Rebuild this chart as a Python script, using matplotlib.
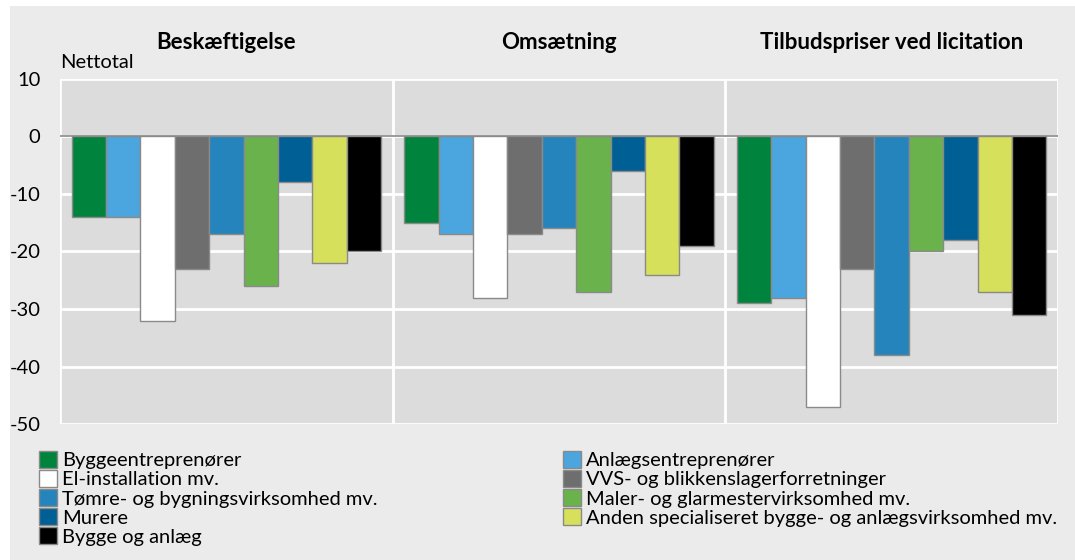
import numpy as np
import matplotlib
matplotlib.use("Agg")
import matplotlib.pyplot as plt
from matplotlib.patches import Patch, Rectangle

plt.rcParams['font.family'] = ['Lato', 'DejaVu Sans']

# data
groups = ['Beskæftigelse', 'Omsætning', 'Tilbudspriser ved licitation']
series = ['Byggeentreprenører', 'Anlægsentreprenører', 'El-installation mv.',
          'VVS- og blikkenslagerforretninger', 'Tømre- og bygningsvirksomhed mv.',
          'Maler- og glarmestervirksomhed mv.', 'Murere',
          'Anden specialiseret bygge- og anlægsvirksomhed mv.', 'Bygge og anlæg']
values = {
    'Beskæftigelse': [-14, -14, -32, -23, -17, -26, -8, -22, -20],
    'Omsætning': [-15, -17, -28, -17, -16, -27, -6, -24, -19],
    'Tilbudspriser ved licitation': [-29, -28, -47, -23, -38, -20, -18, -27, -31],
}
colors = ['#00843d', '#4ba5de', '#ffffff', '#6e6e6e', '#2584bb',
          '#6ab24c', '#005f94', '#d7e05a', '#000000']
yticks = [10, 0, -10, -20, -30, -40, -50]

fig = plt.figure(figsize=(10.75, 5.6), dpi=100)
fig.patch.set_facecolor('white')
fig.patches.append(Rectangle((10 / 1075, 0), 1, 1 - 6 / 560, transform=fig.transFigure,
                             facecolor='#ebebeb', edgecolor='none', zorder=-10))

ax = fig.add_axes([60 / 1075, 1 - 424 / 560, 998 / 1075, 345 / 560])
ax.set_facecolor('#dcdcdc')

margin = 0.035
w = (1 - 2 * margin) / len(series)
for g, grp in enumerate(groups):
    xs = g + margin + w * (np.arange(len(series)) + 0.5)
    ax.bar(xs, values[grp], width=w, color=colors, edgecolor='#8a8a8a',
           linewidth=1, zorder=3)
    ax.text(g + 0.5, 1.107, grp, transform=ax.get_xaxis_transform(),
            ha='center', va='center', fontsize=16, fontweight='bold')

ax.set_xlim(0, len(groups))
ax.set_ylim(-50, 10)
ax.set_yticks(yticks)
ax.set_yticklabels([str(t) for t in yticks], fontsize=14.5)
ax.set_xticks([])
ax.tick_params(axis='y', length=0, pad=14)
for s in ax.spines.values():
    s.set_visible(False)
for t in yticks:
    ax.axhline(t, color='white', linewidth=2, zorder=1)
for xv in range(len(groups) + 1):
    ax.axvline(xv, color='white', linewidth=2, zorder=1)
ax.axhline(0, color='#8a8a8a', linewidth=1.2, zorder=4)

ax.text(0, 1.049, 'Nettotal', transform=ax.transAxes, ha='left', va='center',
        fontsize=14.5)

handles = [Patch(facecolor=c, edgecolor='#8a8a8a', linewidth=1) for c in colors]
kw = dict(frameon=False, fontsize=14.5, handlelength=0.9, handleheight=0.9,
          handletextpad=0.25, labelspacing=0.04, borderpad=0, borderaxespad=0)
left_idx = [0, 2, 4, 6, 8]
right_idx = [1, 3, 5, 7]
fig.legend([handles[i] for i in left_idx], [series[i] for i in left_idx],
           loc='upper left', bbox_to_anchor=(39 / 1075, 1 - 451 / 560), **kw)
fig.legend([handles[i] for i in right_idx], [series[i] for i in right_idx],
           loc='upper left', bbox_to_anchor=(563 / 1075, 1 - 451 / 560), **kw)

fig.savefig('out.png', dpi=100)
